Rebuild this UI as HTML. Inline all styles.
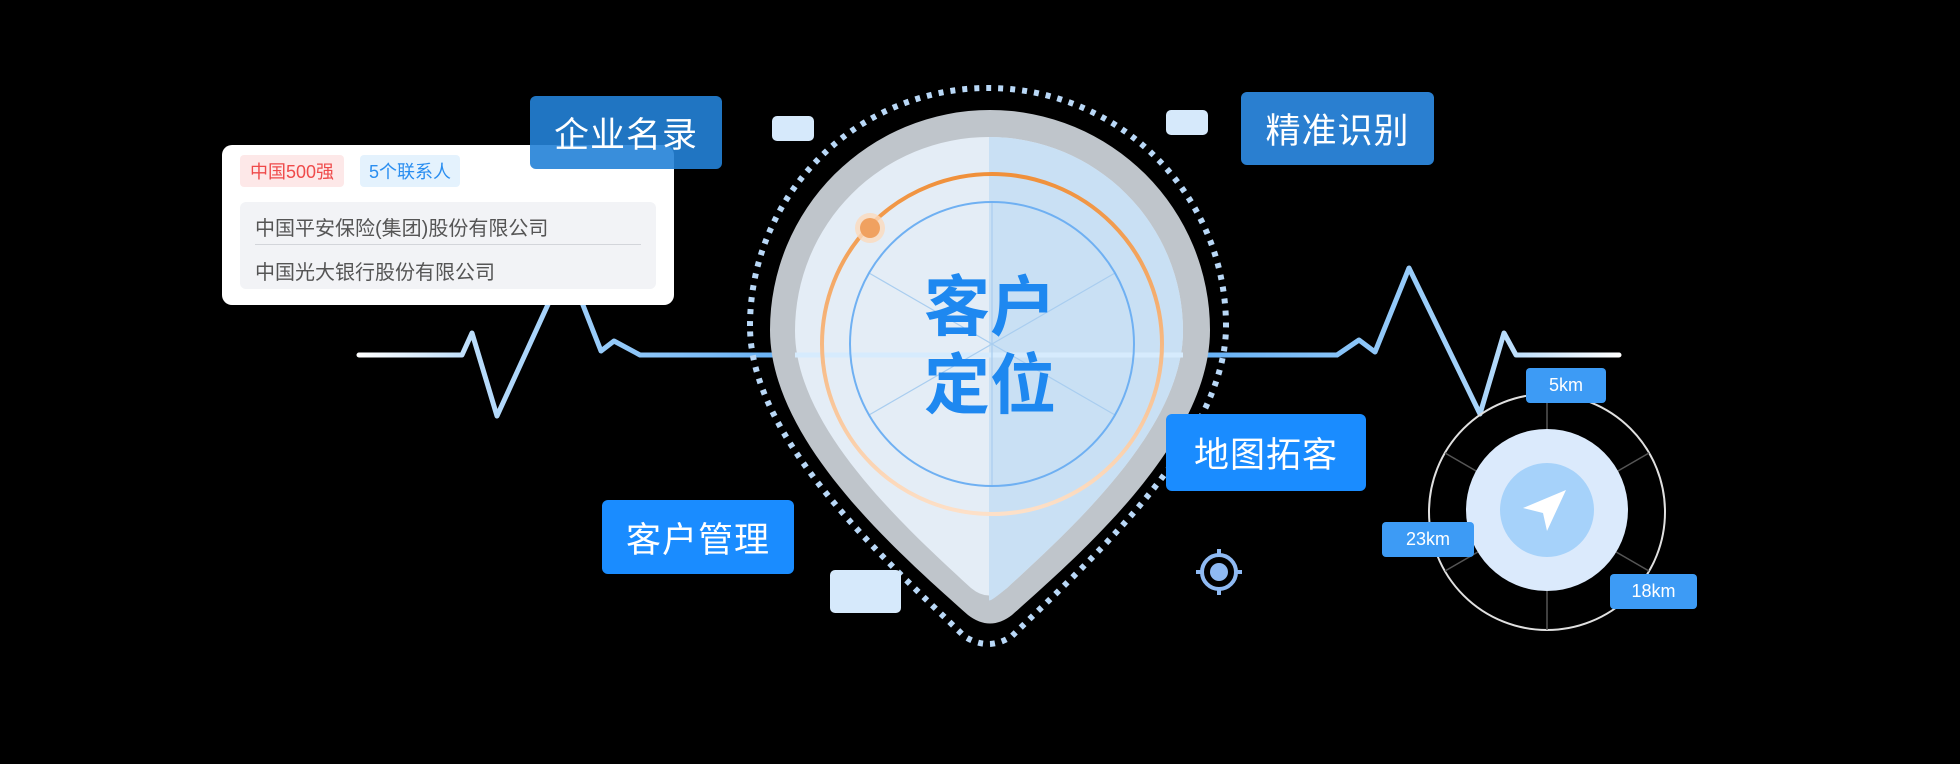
<!DOCTYPE html>
<html><head><meta charset="utf-8"><style>
body{margin:0;width:1960px;height:764px;background:#000;position:relative;overflow:hidden;font-family:"Liberation Sans","Noto Sans CJK SC",sans-serif}
.abs{position:absolute}
.lbl{position:absolute;color:#fff;font-size:35px;display:flex;align-items:center;justify-content:center;border-radius:6px;letter-spacing:1px}
.km{position:absolute;background:#3d9bf5;color:#fff;font-size:18px;display:flex;align-items:center;justify-content:center;border-radius:4px}
</style></head><body>
<svg class="abs" style="left:0;top:0" width="1960" height="764">
<defs>
<linearGradient id="hl" x1="359" y1="0" x2="830" y2="0" gradientUnits="userSpaceOnUse">
<stop offset="0" stop-color="#fff"/><stop offset="0.25" stop-color="#b9dcfb"/><stop offset="1" stop-color="#5aabf5"/></linearGradient>
<linearGradient id="hr" x1="1150" y1="0" x2="1620" y2="0" gradientUnits="userSpaceOnUse">
<stop offset="0" stop-color="#5aabf5"/><stop offset="0.7" stop-color="#a8d4fa"/><stop offset="1" stop-color="#fff"/></linearGradient>
<linearGradient id="orr" x1="0" y1="175" x2="0" y2="514" gradientUnits="userSpaceOnUse">
<stop offset="0" stop-color="#f0903a"/><stop offset="1" stop-color="#fde0c8"/></linearGradient>
</defs>
<!-- heartbeat left -->
<polyline points="359,355 462,355 472,333 497,416 550,300 565,260 581,300 601,351 614,341 640,355 830,355" fill="none" stroke="url(#hl)" stroke-width="5" stroke-linejoin="round" stroke-linecap="round"/>
<!-- heartbeat right -->
<polyline points="1150,355 1337,355 1359,340 1375,352 1409,268 1480,414 1504,333 1516,355 1619,355" fill="none" stroke="url(#hr)" stroke-width="5" stroke-linejoin="round" stroke-linecap="round"/>
<!-- dotted -->
<path d="M750,326 A238 238 0 0 1 1226,326 C1226,440 1090,560 1012,636 Q988,652 964,636 C886,560 750,440 750,326 Z" fill="none" stroke="#b9d8f7" stroke-width="6" stroke-dasharray="5 7"/>
<!-- grey pin -->
<path d="M770,330 A220 220 0 0 1 1210,330 C1210,440 1085,550 1012,615 Q990,632 968,615 C895,550 770,440 770,330 Z" fill="#bfc5cb"/>
<path d="M795,331 A194 194 0 0 1 1183,331 C1183,428 1072,528 1007,588 Q989,603 971,588 C906,528 795,428 795,331 Z" fill="#e4edf6"/>
<path d="M989,137 A194 194 0 0 1 1183,331 C1183,428 1072,528 1007,588 Q989,603 989,600 Z" fill="#c9e0f4"/>
<line x1="795" y1="355" x2="1183" y2="355" stroke="#d6ebfd" stroke-width="5"/>
<!-- spokes -->
<g stroke="#a9cdef" stroke-width="1.2">
<line x1="992" y1="202" x2="992" y2="486"/>
<line x1="869" y1="273" x2="1115" y2="415"/>
<line x1="869" y1="415" x2="1115" y2="273"/>
</g>
<circle cx="992" cy="344" r="142" fill="none" stroke="#6fb0f2" stroke-width="2"/>
<circle cx="992" cy="344" r="170" fill="none" stroke="url(#orr)" stroke-width="4"/>
<circle cx="870" cy="228" r="15" fill="#fbd9bd" opacity="0.8"/>
<circle cx="870" cy="228" r="10" fill="#f0a160"/>
<text x="990" y="330" font-size="66" font-weight="bold" fill="#1e88f0" text-anchor="middle" font-family="Liberation Sans, Noto Sans CJK SC, sans-serif">客户</text>
<text x="990" y="408" font-size="66" font-weight="bold" fill="#1e88f0" text-anchor="middle" font-family="Liberation Sans, Noto Sans CJK SC, sans-serif">定位</text>
<!-- small rects -->
<rect x="772" y="116" width="42" height="25" rx="5" fill="#d6e9fb"/>
<rect x="1166" y="110" width="42" height="25" rx="5" fill="#d6e9fb"/>
<rect x="830" y="570" width="71" height="43" rx="5" fill="#d6e9fb"/>
<!-- target -->
<g stroke="#8fbaf3" fill="none" stroke-width="4">
<circle cx="1219" cy="572" r="17"/>
<line x1="1219" y1="549" x2="1219" y2="556"/><line x1="1219" y1="588" x2="1219" y2="595"/>
<line x1="1196" y1="572" x2="1203" y2="572"/><line x1="1235" y1="572" x2="1242" y2="572"/>
</g>
<circle cx="1219" cy="572" r="9" fill="#8fbaf3"/>
<!-- radar -->
<circle cx="1547" cy="512" r="118" fill="none" stroke="#e0e0e0" stroke-width="2"/>
<g stroke="#555" stroke-width="1.5">
<line x1="1547" y1="394" x2="1547" y2="630"/>
<line x1="1445" y1="453" x2="1649" y2="571"/>
<line x1="1445" y1="571" x2="1649" y2="453"/>
</g>
<circle cx="1547" cy="510" r="81" fill="#dbeafc"/>
<circle cx="1547" cy="510" r="47" fill="#a6d2fa"/>
<path d="M1523,508 L1566,490 L1547,531 L1543,513 Z" fill="#fff"/>
</svg>

<!-- card -->
<div class="abs" style="left:222px;top:145px;width:452px;height:160px;background:#fff;border-radius:10px">
<div class="abs" style="left:18px;top:10px;width:104px;height:32px;background:#fde8e8;color:#ef4a4a;border-radius:4px;font-size:18px;display:flex;align-items:center;justify-content:center">中国500强</div>
<div class="abs" style="left:138px;top:10px;width:100px;height:32px;background:#e4f2fd;color:#2a8ef0;border-radius:4px;font-size:18px;display:flex;align-items:center;justify-content:center">5个联系人</div>
<div class="abs" style="left:18px;top:57px;width:416px;height:87px;background:#f2f3f6;border-radius:6px;color:#555;font-size:20px">
<div class="abs" style="left:15px;top:10px">中国平安保险(集团)股份有限公司</div>
<div class="abs" style="left:15px;top:42px;width:386px;height:1px;background:#d3d5da"></div>
<div class="abs" style="left:15px;top:54px">中国光大银行股份有限公司</div>
</div>
</div>
<div class="lbl" style="left:530px;top:96px;width:192px;height:73px;background:rgba(36,130,215,0.9)">企业名录</div>
<div class="lbl" style="left:1241px;top:92px;width:193px;height:73px;background:#2a7fd0">精准识别</div>
<div class="lbl" style="left:1166px;top:414px;width:200px;height:77px;background:#1a8cff">地图拓客</div>
<div class="lbl" style="left:602px;top:500px;width:192px;height:74px;background:#1a8cff">客户管理</div>
<div class="km" style="left:1526px;top:368px;width:80px;height:35px">5km</div>
<div class="km" style="left:1382px;top:522px;width:92px;height:35px">23km</div>
<div class="km" style="left:1610px;top:574px;width:87px;height:35px">18km</div>
</body></html>
